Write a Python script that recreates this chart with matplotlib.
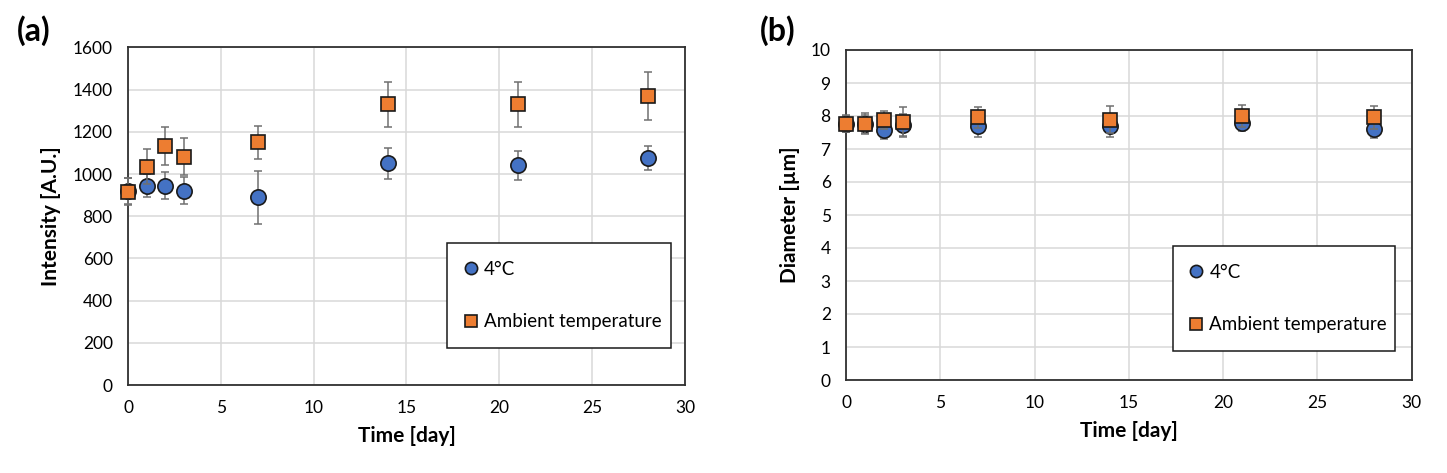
import matplotlib
matplotlib.use("Agg")
import matplotlib.pyplot as plt

plt.rcParams['font.family'] = ['Lato', 'DejaVu Sans']

days = [0, 1, 2, 3, 7, 14, 21, 28]

# Panel (a): Intensity
int_4c = [920, 945, 945, 922, 889, 1051, 1042, 1075]
int_4c_err = [60, 53, 63, 63, 125, 73, 68, 56]
int_amb = [917, 1035, 1134, 1083, 1151, 1331, 1331, 1370]
int_amb_err = [65, 82, 90, 88, 79, 106, 106, 116]

# Panel (b): Diameter
dia_4c = [7.75, 7.75, 7.58, 7.72, 7.70, 7.70, 7.79, 7.61]
dia_4c_err = [0.25, 0.28, 0.27, 0.35, 0.33, 0.35, 0.25, 0.28]
dia_amb = [7.77, 7.77, 7.89, 7.83, 7.96, 7.89, 8.00, 7.96]
dia_amb_err = [0.25, 0.32, 0.27, 0.44, 0.31, 0.40, 0.34, 0.35]

labels = ['4°C', 'Ambient temperature']
blue = '#4472C4'
orange = '#ED7D31'
errc = '#707070'

fig = plt.figure(figsize=(14.47, 4.73), dpi=100)
ax1 = fig.add_axes([128/1447, 1-385/473, (685-128)/1447, (385-47.5)/473])
ax2 = fig.add_axes([846/1447, 1-380/473, (1411.5-846)/1447, (380-50)/473])

def draw(ax, y1, e1, y2, e2, ylim, yticks, ylabel, legbox):
    ax.errorbar(days, y1, yerr=e1, fmt='none', ecolor=errc, elinewidth=1.1,
                capsize=3, capthick=1.1, zorder=3, clip_on=False)
    ax.plot(days, y1, 'o', ms=11, mfc=blue, mec='#1a1a1a', mew=1.2,
            zorder=4, clip_on=False, label=labels[0])
    ax.errorbar(days, y2, yerr=e2, fmt='none', ecolor=errc, elinewidth=1.1,
                capsize=3, capthick=1.1, zorder=5, clip_on=False)
    ax.plot(days, y2, 's', ms=10.5, mfc=orange, mec='#1a1a1a', mew=1.2,
            zorder=6, clip_on=False, label=labels[1])
    ax.set_xlim(0, 30)
    ax.set_ylim(*ylim)
    ax.set_xticks(range(0, 31, 5))
    ax.set_yticks(yticks)
    ax.grid(True, color='#D9D9D9', linewidth=1.1)
    ax.set_axisbelow(True)
    for s in ax.spines.values():
        s.set_color('#303030')
        s.set_linewidth(1.3)
    ax.tick_params(length=0, labelsize=12.5, pad=11, colors='#000000')
    ax.set_xlabel('Time [day]', fontsize=15, fontweight='bold', labelpad=7)
    ax.set_ylabel(ylabel, fontsize=15, fontweight='bold', labelpad=8)
    leg = ax.legend(loc='lower left', bbox_to_anchor=legbox, mode='expand',
                    fontsize=13.5, frameon=True, fancybox=False,
                    edgecolor='#1a1a1a', framealpha=1, labelspacing=1.9,
                    borderpad=0.95, handlelength=0.6, handletextpad=0.4,
                    markerscale=0.8, borderaxespad=0)
    leg.get_frame().set_linewidth(1.1)
    leg.set_zorder(10)

draw(ax1, int_4c, int_4c_err, int_amb, int_amb_err, (0, 1600),
     range(0, 1601, 200), 'Intensity [A.U.]', (0.573, 0.109, 0.402, 0.308))
draw(ax2, dia_4c, dia_4c_err, dia_amb, dia_amb_err, (0, 10),
     range(0, 11), 'Diameter [µm]', (0.578, 0.088, 0.392, 0.318))

fig.text(17/1447, 1-31/473, '(a)', fontsize=23, fontweight='bold', va='center')
fig.text(760/1447, 1-31/473, '(b)', fontsize=23, fontweight='bold', va='center')

fig.savefig('out.png', dpi=100)
